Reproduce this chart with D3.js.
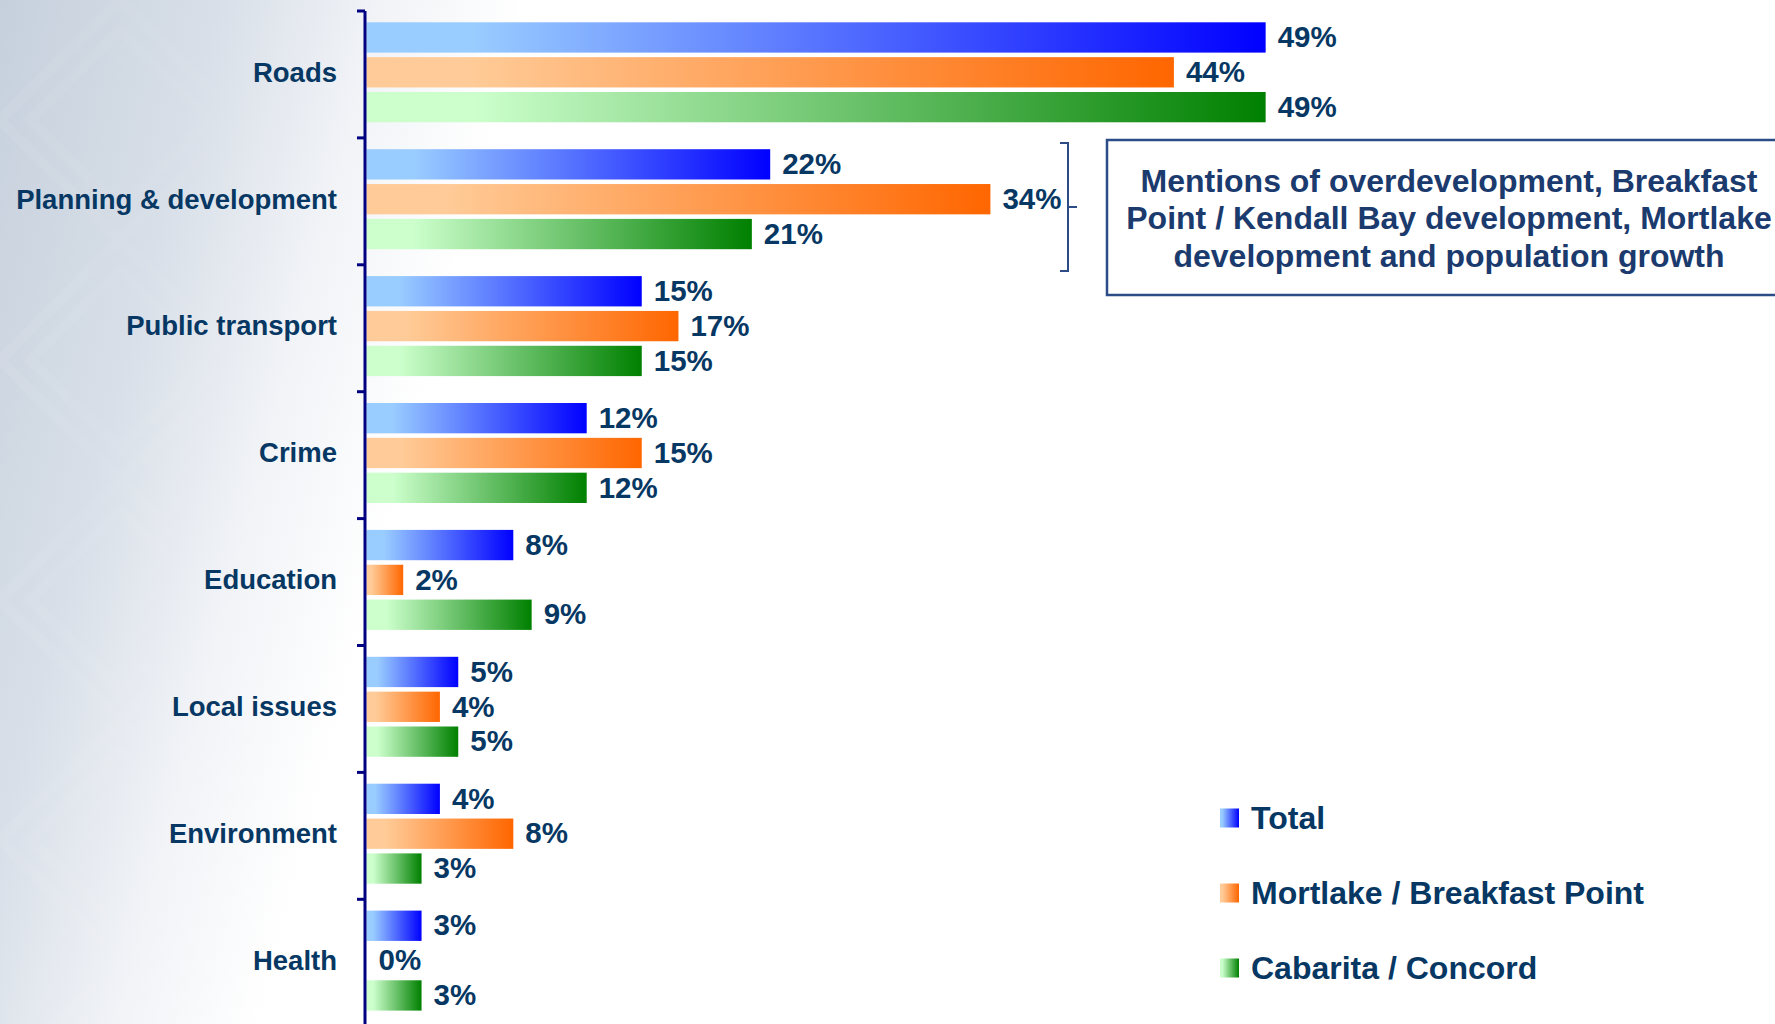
<!DOCTYPE html>
<html>
<head>
<meta charset="UTF-8">
<title>Local issues</title>
<script src="https://d3js.org/d3.v7.min.js"></script>
<style>
  html, body { margin: 0; padding: 0; background: #fff; overflow: hidden; }
  svg { display: block; font-family: "Liberation Sans", Arial, sans-serif; }
</style>
</head>
<body>
<svg id="chart" width="1775" height="1024"></svg>
<script>
// data
var categories = ["Roads", "Planning & development", "Public transport", "Crime",
                  "Education", "Local issues", "Environment", "Health"];
var series = ["Total", "Mortlake / Breakfast Point", "Cabarita / Concord"];
var totalValues    = [49, 22, 15, 12, 8, 5, 4, 3];
var mortlakeValues = [44, 34, 17, 15, 2, 4, 8, 0];
var cabaritaValues = [49, 21, 15, 12, 9, 5, 3, 3];
var noteLines = ["Mentions of overdevelopment, Breakfast",
                 "Point / Kendall Bay development, Mortlake",
                 "development and population growth"];

var seriesValues = [totalValues, mortlakeValues, cabaritaValues];
var colours = [["#99ccff", "#0000ff"], ["#ffcc99", "#ff6600"], ["#ccffcc", "#008000"]];
var textColour = "#073763";

var svg = d3.select("#chart");
var defs = svg.append("defs");

// background: grey-blue wash fading to white
var bg = defs.append("linearGradient").attr("id", "bg")
    .attr("x1", 0).attr("y1", 0).attr("x2", 1).attr("y2", 0.15);
bg.append("stop").attr("offset", "0").attr("stop-color", "#c6d0dc");
bg.append("stop").attr("offset", "0.12").attr("stop-color", "#d8dfe8");
bg.append("stop").attr("offset", "0.21").attr("stop-color", "#f1f3f7");
bg.append("stop").attr("offset", "0.29").attr("stop-color", "#ffffff");
svg.append("rect").attr("width", 1775).attr("height", 1024).attr("fill", "url(#bg)");

// faint diamond lattice on the left
var pat = defs.append("pattern").attr("id", "diamonds")
    .attr("patternUnits", "userSpaceOnUse").attr("width", 240).attr("height", 240);
pat.append("path").attr("d", "M120,0 L240,120 L120,240 L0,120 Z M120,30 L210,120 L120,210 L30,120 Z")
    .attr("fill", "none").attr("stroke", "#ffffff").attr("stroke-width", 10).attr("opacity", 0.07);
var fade = defs.append("linearGradient").attr("id", "fade");
fade.append("stop").attr("offset", "0").attr("stop-color", "#fff");
fade.append("stop").attr("offset", "0.2").attr("stop-color", "#000");
defs.append("mask").attr("id", "fadeMask")
  .append("rect").attr("width", 1775).attr("height", 1024).attr("fill", "url(#fade)");
svg.append("rect").attr("width", 1775).attr("height", 1024)
    .attr("fill", "url(#diamonds)").attr("mask", "url(#fadeMask)");

// bar gradients
colours.forEach(function(c, i) {
  var g = defs.append("linearGradient").attr("id", "grad" + i);
  g.append("stop").attr("offset", "0").attr("stop-color", c[0]);
  g.append("stop").attr("offset", "0.12").attr("stop-color", c[0]);
  g.append("stop").attr("offset", "1").attr("stop-color", c[1]);
});

var x = d3.scaleLinear().domain([0, 50]).range([366.5, 366.5 + 50 * 18.35]);
var y0 = d3.scaleBand().domain(categories).range([11, 11 + 8 * 126.9]);
var y1 = d3.scaleBand().domain(series).range([11.3, 11.3 + 100]).paddingInner(0.13);

var rows = categories.map(function(c, ci) {
  return { cat: c, vals: series.map(function(s, si) { return { s: s, si: si, v: seriesValues[si][ci] }; }) };
});

var groups = svg.append("g").selectAll("g").data(rows).enter().append("g")
    .attr("transform", function(d) { return "translate(0," + y0(d.cat) + ")"; });

groups.selectAll("rect").data(function(d) { return d.vals; }).enter().append("rect")
    .attr("x", x(0))
    .attr("y", function(d) { return y1(d.s); })
    .attr("width", function(d) { return x(d.v) - x(0); })
    .attr("height", y1.bandwidth())
    .attr("fill", function(d) { return "url(#grad" + d.si + ")"; });

groups.selectAll("text.val").data(function(d) { return d.vals; }).enter().append("text")
    .attr("class", "val")
    .attr("x", function(d) { return x(d.v) + 12; })
    .attr("y", function(d) { return y1(d.s) + y1.bandwidth() / 2; })
    .attr("dy", "0.33em")
    .attr("fill", textColour)
    .attr("font-size", 29.5)
    .attr("font-weight", "bold")
    .text(function(d) { return d.v + "%"; });

groups.append("text")
    .attr("x", 337)
    .attr("y", function() { return y1(series[1]) + y1.bandwidth() / 2; })
    .attr("dy", "0.34em")
    .attr("text-anchor", "end")
    .attr("fill", textColour)
    .attr("font-size", 27.5)
    .attr("font-weight", "bold")
    .text(function(d) { return d.cat; });

// category axis
var axis = svg.append("g").attr("stroke", "#000080").attr("stroke-width", 3);
axis.append("line").attr("x1", 365).attr("x2", 365).attr("y1", 11).attr("y2", 1024);
axis.selectAll("line.tick").data(categories.concat(["end"])).enter().append("line")
    .attr("class", "tick")
    .attr("x1", 357).attr("x2", 365)
    .attr("y1", function(d, i) { return y0.range()[0] + i * y0.step(); })
    .attr("y2", function(d, i) { return y0.range()[0] + i * y0.step(); });

// bracket and note box
var noteColour = "#2b4c86";
svg.append("path")
    .attr("d", "M1060,143 H1068 V271 H1060 M1068,207 H1077")
    .attr("fill", "none").attr("stroke", noteColour).attr("stroke-width", 2);
svg.append("rect")
    .attr("x", 1107).attr("y", 140).attr("width", 720).attr("height", 155)
    .attr("fill", "#fff").attr("stroke", noteColour).attr("stroke-width", 2.5);
svg.append("g").selectAll("text").data(noteLines).enter().append("text")
    .attr("x", 1449)
    .attr("y", function(d, i) { return 181 + i * 37.5; })
    .attr("dy", "0.34em")
    .attr("text-anchor", "middle")
    .attr("fill", "#1b3a6e")
    .attr("font-size", 32)
    .attr("font-weight", "bold")
    .text(function(d) { return d; });

// legend
var legend = svg.append("g").selectAll("g").data(series).enter().append("g")
    .attr("transform", function(d, i) { return "translate(1220," + (818 + i * 75) + ")"; });
legend.append("rect")
    .attr("x", 0).attr("y", -9.5).attr("width", 19).attr("height", 19)
    .attr("fill", function(d, i) { return "url(#grad" + i + ")"; });
legend.append("text")
    .attr("x", 31).attr("dy", "0.34em")
    .attr("fill", textColour)
    .attr("font-size", 32)
    .attr("font-weight", "bold")
    .text(function(d) { return d; });
</script>
</body>
</html>
